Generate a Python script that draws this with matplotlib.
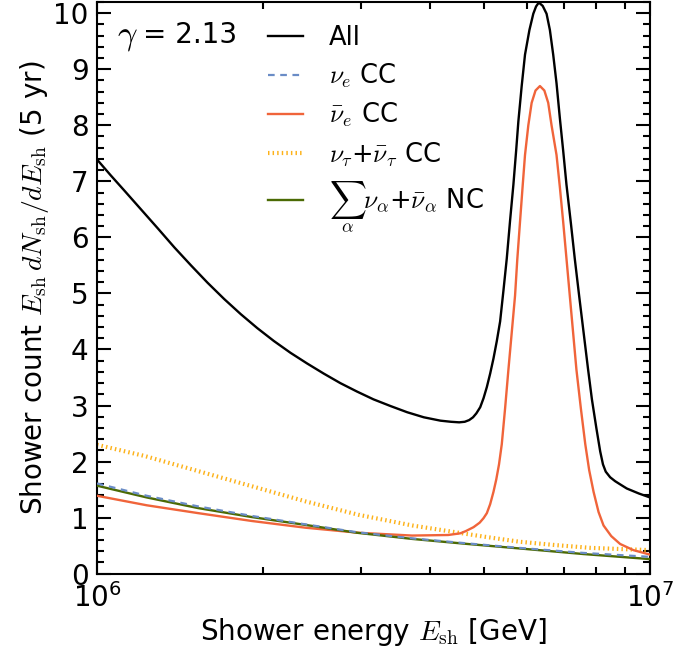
import numpy as np
import matplotlib
matplotlib.use("Agg")
import matplotlib.pyplot as plt

# ---- data (log10(E/GeV) - 6, value) ----
all_dlog = [0.000, 0.0245, 0.049, 0.0795, 0.110, 0.140, 0.170, 0.200, 0.230, 0.260,
            0.290, 0.320, 0.350, 0.380, 0.410, 0.440, 0.470, 0.500, 0.531, 0.561,
            0.591, 0.621, 0.640, 0.655, 0.665, 0.673, 0.680, 0.686, 0.693, 0.699,
            0.705, 0.711, 0.717, 0.723, 0.729, 0.735, 0.741, 0.747, 0.753, 0.758,
            0.762, 0.768, 0.774, 0.782, 0.789, 0.794, 0.799, 0.806, 0.813, 0.819,
            0.825, 0.831, 0.837, 0.843, 0.849, 0.857, 0.864, 0.872, 0.880, 0.888,
            0.895, 0.903, 0.910, 0.915, 0.920, 0.928, 0.937, 0.945, 0.958, 0.980,
            1.000]
all_val = [7.39, 7.11, 6.84, 6.50, 6.16, 5.82, 5.50, 5.19, 4.90, 4.63,
           4.38, 4.15, 3.94, 3.75, 3.57, 3.40, 3.25, 3.11, 2.99, 2.88,
           2.79, 2.73, 2.71, 2.70, 2.71, 2.74, 2.79, 2.86, 2.97, 3.13,
           3.33, 3.57, 3.84, 4.15, 4.50, 5.05, 5.62, 6.30, 6.94, 7.55,
           8.07, 8.70, 9.26, 9.70, 9.99, 10.12, 10.19, 10.13, 9.99, 9.70,
           9.26, 8.75, 8.13, 7.55, 6.94, 6.25, 5.62, 4.95, 4.30, 3.65,
           3.11, 2.60, 2.18, 1.95, 1.82, 1.72, 1.65, 1.60, 1.52, 1.43,
           1.36]

nuebar_dlog = [0.000, 0.090, 0.183, 0.280, 0.377, 0.473, 0.570, 0.635, 0.657, 0.667,
               0.681, 0.692, 0.699, 0.705, 0.711, 0.717, 0.722, 0.727, 0.732, 0.738,
               0.744, 0.750, 0.756, 0.760, 0.765, 0.770, 0.774, 0.780, 0.786, 0.793,
               0.801, 0.809, 0.816, 0.822, 0.831, 0.837, 0.843, 0.849, 0.855, 0.861,
               0.867, 0.875, 0.883, 0.890, 0.898, 0.907, 0.916, 0.930, 0.946, 0.970,
               1.000]
nuebar_val = [1.39, 1.22, 1.08, 0.94, 0.82, 0.73, 0.68, 0.69, 0.72, 0.76,
              0.83, 0.91, 0.99, 1.08, 1.24, 1.46, 1.68, 1.95, 2.31, 2.95,
              3.64, 4.30, 4.96, 5.60, 6.28, 6.95, 7.47, 8.00, 8.40, 8.62,
              8.70, 8.62, 8.40, 8.00, 7.47, 6.90, 6.28, 5.62, 4.96, 4.30,
              3.64, 2.95, 2.31, 1.85, 1.46, 1.10, 0.86, 0.67, 0.53, 0.42,
              0.34]

nutau_dlog = [0.000, 0.086, 0.183, 0.280, 0.377, 0.473, 0.570, 0.635, 0.700, 0.764, 0.829, 0.893, 1.000]
nutau_val = [2.30, 2.10, 1.83, 1.56, 1.29, 1.05, 0.86, 0.76, 0.66, 0.57, 0.51, 0.46, 0.42]

nue_dlog = [0.000, 0.090, 0.183, 0.280, 0.377, 0.470, 0.570, 0.670, 0.764, 0.880, 1.000]
nue_val = [1.61, 1.39, 1.20, 1.03, 0.88, 0.74, 0.63, 0.54, 0.46, 0.37, 0.30]

nc_dlog = [0.000, 0.090, 0.183, 0.280, 0.377, 0.470, 0.570, 0.670, 0.764, 0.880, 1.000]
nc_val = [1.57, 1.36, 1.17, 1.01, 0.87, 0.73, 0.62, 0.53, 0.45, 0.35, 0.26]

labels = ["All", r"$\nu_e$ CC", r"$\bar{\nu}_e$ CC",
          r"$\nu_\tau$+$\bar{\nu}_\tau$ CC",
          r"$\sum_\alpha\nu_\alpha$+$\bar{\nu}_\alpha$ NC"]

plt.rcParams["mathtext.fontset"] = "cm"
plt.rcParams["font.family"] = ["DejaVu Sans"]

def E(d):
    return 1e6 * 10 ** np.asarray(d)

fig = plt.figure(figsize=(6.76, 6.56), dpi=100)
ax = fig.add_axes([0.1435, 0.1255, 0.818, 0.8715])

ax.plot(E(all_dlog), all_val, color="black", lw=1.7, label=labels[0], zorder=5)
ax.plot(E(nue_dlog), nue_val, color="#6a8cc6", lw=1.6, dashes=(3, 2.5), label=labels[1], zorder=4)
ax.plot(E(nuebar_dlog), nuebar_val, color="#f0643a", lw=1.7, label=labels[2], zorder=3)
ax.plot(E(nutau_dlog), nutau_val, color="#fdb21a", lw=3.0, dashes=(0.35, 0.75), label=labels[3], zorder=2)
ax.plot(E(nc_dlog), nc_val, color="#4b6a04", lw=1.7, label=labels[4], zorder=3)

ax.set_xscale("log")
ax.set_xlim(1e6, 1e7)
ax.set_ylim(0, 10.2)
ax.set_yticks(range(0, 11))
ax.set_yticks(np.arange(0, 10.21, 0.2), minor=True)

ax.tick_params(which="both", direction="in", top=True, right=True, labelsize=20, width=1.5)
ax.tick_params(which="major", length=10)
ax.tick_params(which="minor", length=5)
ax.tick_params(axis="x", which="major", pad=7)
ax.tick_params(axis="y", which="major", pad=6)
for s in ax.spines.values():
    s.set_linewidth(1.5)

ax.set_xlabel(r"Shower energy $E_{\rm sh}$ [GeV]", fontsize=20, labelpad=2)
ax.set_ylabel(r"Shower count $E_{\rm sh}\, dN_{\rm sh}/dE_{\rm sh}$ (5 yr)", fontsize=20, labelpad=2)

ax.text(0.036, 0.928, r"$\gamma$", transform=ax.transAxes, fontsize=25, va="baseline", ha="left")
ax.text(0.083, 0.928, "= 2.13", transform=ax.transAxes, fontsize=20, va="baseline", ha="left")

ax.legend(loc="upper left", bbox_to_anchor=(0.268, 1.0), frameon=False, fontsize=18.5,
          handlelength=1.35, handletextpad=1.0, labelspacing=0.42)

fig.savefig("out.png", dpi=100)
